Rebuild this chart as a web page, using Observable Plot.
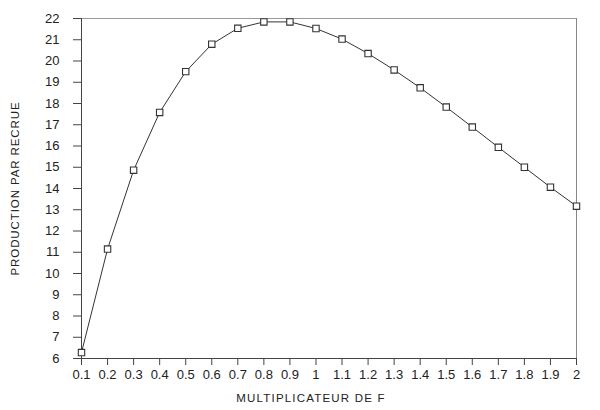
<!DOCTYPE html>
<html>
<head>
<meta charset="utf-8">
<script src="https://cdn.jsdelivr.net/npm/d3@7"></script>
<script src="https://cdn.jsdelivr.net/npm/@observablehq/plot@0.6"></script>
<style>
  html, body { margin: 0; padding: 0; background: #fff; }
  #chart { width: 600px; height: 410px; }
</style>
</head>
<body>
<div id="chart"></div>
<script>
const multiplicateur = [0.1, 0.2, 0.3, 0.4, 0.5, 0.6, 0.7, 0.8, 0.9, 1.0, 1.1, 1.2, 1.3, 1.4, 1.5, 1.6, 1.7, 1.8, 1.9, 2.0];
const production = [6.28, 11.15, 14.86, 17.58, 19.5, 20.79, 21.54, 21.84, 21.84, 21.53, 21.03, 20.35, 19.58, 18.74, 17.83, 16.89, 15.94, 15.0, 14.06, 13.17];
const xTicks = [0.1, 0.2, 0.3, 0.4, 0.5, 0.6, 0.7, 0.8, 0.9, 1, 1.1, 1.2, 1.3, 1.4, 1.5, 1.6, 1.7, 1.8, 1.9, 2];
const yTicks = [6, 7, 8, 9, 10, 11, 12, 13, 14, 15, 16, 17, 18, 19, 20, 21, 22];
const xTitle = "MULTIPLICATEUR DE F";
const yTitle = "PRODUCTION PAR RECRUE";

const data = multiplicateur.map((m, i) => ({m, p: production[i]}));
const fmt = d => String(+d.toFixed(1));

const chart = Plot.plot({
  width: 600,
  height: 410,
  marginLeft: 81,
  marginRight: 24,
  marginTop: 18,
  marginBottom: 52,
  style: {fontFamily: "'Liberation Sans', Arial, sans-serif", fontSize: "13px", color: "#222", background: "#fff"},
  x: {domain: [0.1, 2]},
  y: {domain: [6, 22]},
  marks: [
    Plot.ruleY([22], {stroke: "#999", strokeWidth: 1}),
    Plot.ruleX([2], {stroke: "#888", strokeWidth: 1}),
    Plot.ruleX([0.1], {stroke: "#444", strokeWidth: 1}),
    Plot.ruleY([6], {stroke: "#444", strokeWidth: 1}),
    Plot.axisX({ticks: xTicks, tickFormat: fmt, tickSize: 7, tickPadding: 4, label: null, fontSize: 13, stroke: "#444"}),
    Plot.axisY({ticks: yTicks, tickFormat: fmt, tickSize: 8, tickPadding: 14, label: null, fontSize: 13, stroke: "#444"}),
    Plot.line(data, {x: "m", y: "p", stroke: "#333", strokeWidth: 1}),
    Plot.dot(data, {x: "m", y: "p", symbol: "square", r: 3.6, stroke: "#333", strokeWidth: 1.1, fill: "#fff"}),
    Plot.text([xTitle], {frameAnchor: "bottom", dx: -18, dy: 43, fontSize: 11.5, fill: "#222", text: d => d}),
    Plot.text([yTitle], {frameAnchor: "left", dx: -66, rotate: -90, textAnchor: "middle", fontSize: 11.5, fill: "#222", text: d => d})
  ]
});
chart.querySelectorAll("text").forEach(t => {
  if (t.textContent === xTitle) t.setAttribute("letter-spacing", "1.2");
  if (t.textContent === yTitle) t.setAttribute("letter-spacing", "0.9");
});
document.getElementById("chart").appendChild(chart);
</script>
</body>
</html>
